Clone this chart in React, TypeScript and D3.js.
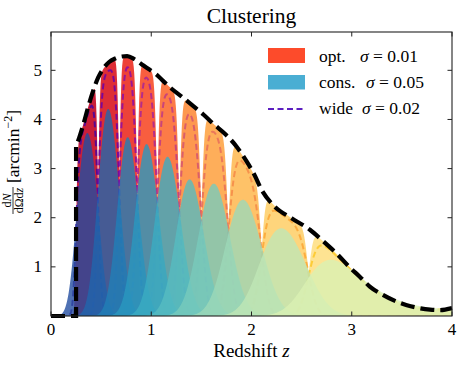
import React, { useMemo } from 'react'
import * as d3 from 'd3'

const W = 463
const H = 368
const plot = { left: 51, right: 452, top: 32, bottom: 316 }

// black dashed envelope n(z) (first two points: zero run up to the cut)
const envZ = [0, 0.25, 0.25, 0.28, 0.32, 0.37, 0.42, 0.47, 0.52, 0.58, 0.64, 0.70, 0.76, 0.83, 0.90, 0.97,
  1.05, 1.12, 1.20, 1.30, 1.42, 1.52, 1.62, 1.74, 1.85, 1.95, 2.03, 2.10, 2.22, 2.40, 2.58, 2.70, 2.85,
  2.98, 3.08, 3.18, 3.31, 3.45, 3.55, 3.65, 3.78, 3.88, 4.0]
const envN = [0, 0, 3.45, 3.62, 3.88, 4.25, 4.58, 4.85, 5.03, 5.17, 5.24, 5.28, 5.29, 5.23, 5.13, 5.03,
  4.92, 4.78, 4.63, 4.47, 4.27, 4.10, 3.91, 3.70, 3.45, 3.15, 2.87, 2.57, 2.25, 1.99, 1.76, 1.55, 1.27,
  0.99, 0.80, 0.60, 0.43, 0.29, 0.22, 0.17, 0.13, 0.12, 0.16]

// tomographic bin edges
const binEdges = [0.25, 0.47, 0.68, 0.86, 1.06, 1.28, 1.50, 1.77, 2.10, 2.57, 4.3]

// photo-z scatter of each sample (legend)
const optSigma = 0.01
const consSigma = 0.05
const wideSigma = 0.02
const wideScale = 0.97

const legendRows = [
  { name: 'opt.', sigma: '0.01', sx: 360 },
  { name: 'cons.', sigma: '0.05', sx: 366 },
  { name: 'wide', sigma: '0.02', sx: 362 },
]

const xTicks = [0, 1, 2, 3, 4]
const yTicks = [1, 2, 3, 4, 5]

const FONT = '"Liberation Serif", "DejaVu Serif", serif'

const envelope = d3.scaleLinear().domain(envZ.slice(2)).range(envN.slice(2)).clamp(true)

function binCurves(sigma: number, zs: number[]) {
  const step = 0.004
  return d3.range(binEdges.length - 1).map((i) => {
    const lo = binEdges[i]
    const hi = binEdges[i + 1]
    const src = d3.range(lo + step / 2, hi, step)
    const ev = src.map((z) => envelope(z))
    const sd = src.map((z) => sigma * (1 + z))
    return zs.map((z) => {
      let s = 0
      for (let k = 0; k < src.length; k++) {
        const d = z - src[k]
        if (Math.abs(d) > 5 * sd[k]) continue
        s += ev[k] * Math.exp(-d * d / (2 * sd[k] * sd[k])) / (sd[k] * Math.sqrt(2 * Math.PI)) * step
      }
      return s
    })
  })
}

export default function App() {
  const x = d3.scaleLinear().domain([0, 4]).range([plot.left, plot.right])
  const y = d3.scaleLinear().domain([0, 5.78]).range([plot.bottom, plot.top])

  const zs = useMemo(() => d3.range(0, 4.0001, 0.005), [])
  const opt = useMemo(() => binCurves(optSigma, zs), [zs])
  const cons = useMemo(() => binCurves(consSigma, zs), [zs])
  const wide = useMemo(() => binCurves(wideSigma, zs), [zs])

  const area = d3.area<number>()
    .x((_, i) => x(zs[i]))
    .y0(y(0))
    .y1((d) => y(d))
  const line = d3.line<number>()
    .x((_, i) => x(zs[i]))
    .y((d) => y(d * wideScale))

  const envLine = d3.line<number>()
    .x((_, i) => x(envZ[i + 2]))
    .y((d) => y(d))
    .curve(d3.curveMonotoneX)
  const envPath = `M${x(0)},${y(0)}L${x(0.25)},${y(0)}` + (envLine(envN.slice(2)) || '').replace(/^M/, 'L')

  const optColor = (i: number) => d3.interpolateYlOrRd(0.85 - i * 0.072)
  const consColor = (i: number) => d3.interpolateYlGnBu(0.8 - i * 0.068)
  const wideColor = (i: number) => d3.interpolatePlasma(0.12 + i * 0.085)

  return (
    <svg width={W} height={H} style={{ display: 'block', position: 'absolute', left: 0, top: 0 }}>
      <defs>
        <clipPath id="plotclip">
          <rect x={plot.left} y={plot.top} width={plot.right - plot.left} height={plot.bottom - plot.top} />
        </clipPath>
      </defs>
      <rect width={W} height={H} fill="white" />

      <g clipPath="url(#plotclip)">
        {opt.map((c, i) => (
          <path key={'o' + i} d={area(c) || ''} fill={optColor(i)} fillOpacity={0.9} />
        ))}
        {wide.map((c, i) => (
          <path key={'w' + i} d={line(c) || ''} fill="none" stroke={wideColor(i)} strokeOpacity={0.85}
            strokeWidth={2} strokeDasharray="6 3.5" />
        ))}
        {cons.map((c, i) => (
          <path key={'c' + i} d={area(c) || ''} fill={consColor(i)} fillOpacity={0.8} />
        ))}
      </g>
      <path d={envPath} fill="none" stroke="black" strokeWidth={4.2} strokeDasharray="14 6" />

      {/* frame and ticks */}
      <rect x={plot.left} y={plot.top} width={plot.right - plot.left} height={plot.bottom - plot.top}
        fill="none" stroke="#222" strokeWidth={1.1} />
      {xTicks.map((t) => (
        <g key={'xt' + t}>
          <line x1={x(t)} x2={x(t)} y1={plot.bottom} y2={plot.bottom - 4.5} stroke="#222" />
          <line x1={x(t)} x2={x(t)} y1={plot.top} y2={plot.top + 4.5} stroke="#222" />
          <text x={x(t)} y={335} textAnchor="middle" fontFamily={FONT} fontSize={17}>{t}</text>
        </g>
      ))}
      {yTicks.map((t) => (
        <g key={'yt' + t}>
          <line x1={plot.left} x2={plot.left + 4.5} y1={y(t)} y2={y(t)} stroke="#222" />
          <line x1={plot.right} x2={plot.right - 4.5} y1={y(t)} y2={y(t)} stroke="#222" />
          <text x={42} y={y(t) + 5.5} textAnchor="end" fontFamily={FONT} fontSize={17}>{t}</text>
        </g>
      ))}

      {/* title and axis labels */}
      <text x={(plot.left + plot.right) / 2} y={23} textAnchor="middle" fontFamily={FONT} fontSize={21.5}>Clustering</text>
      <text x={(plot.left + plot.right) / 2} y={357} textAnchor="middle" fontFamily={FONT} fontSize={19}>
        Redshift <tspan fontStyle="italic">z</tspan>
      </text>
      <g transform="translate(3,214) rotate(-90)" fontFamily={FONT}>
        <text x={13.5} y={8} textAnchor="middle" fontSize={12}>d<tspan fontStyle="italic">N</tspan></text>
        <line x1={0} x2={27} y1={10} y2={10} stroke="black" strokeWidth={0.8} />
        <text x={13.5} y={20} textAnchor="middle" fontSize={12}>dΩd<tspan fontStyle="italic">z</tspan></text>
        <text x={31} y={16} fontSize={17.5}>
          [arcmin<tspan fontSize={12} dy={-7}>−2</tspan><tspan dy={7}>]</tspan>
        </text>
      </g>

      {/* legend */}
      <rect x={268} y={48} width={37} height={15} fill="#fd4b2b" />
      <rect x={268} y={75} width={37} height={14.5} fill="#4aaed3" />
      <line x1={268} x2={305} y1={109} y2={109} stroke="#5c1fc0" strokeWidth={2} strokeDasharray="6 3.5" />
      {legendRows.map((r, i) => (
        <g key={r.name} fontFamily={FONT} fontSize={17.5}>
          <text x={319} y={62 + i * 26}>{r.name}</text>
          <text x={r.sx} y={62 + i * 26}>
            <tspan fontStyle="italic">σ</tspan> = {r.sigma}
          </text>
        </g>
      ))}
    </svg>
  )
}
